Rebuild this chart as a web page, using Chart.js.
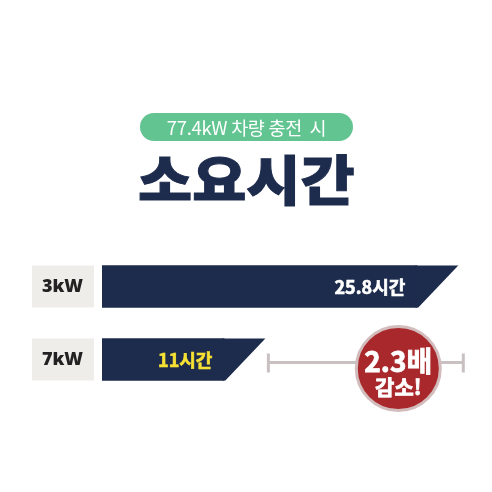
<!DOCTYPE html>
<html>
<head>
<meta charset="utf-8">
<script src="https://cdn.jsdelivr.net/npm/chart.js@4.4.1/dist/chart.umd.min.js"></script>
<style>
  body { margin: 0; background: #fff; }
  #wrap { position: relative; width: 492px; height: 492px; }
  .pill {
    position: absolute; left: 140px; top: 113px; width: 213px; height: 28px;
    border-radius: 14px; background: #62c491; color: #fff;
    font: 400 18.5px "Noto Sans CJK KR"; text-align: center; line-height: 28px;
    white-space: pre; letter-spacing: -0.3px;
  }
  .title {
    position: absolute; left: 0; width: 492px; top: 148px; text-align: center;
    font: 900 54px/60px "Noto Sans CJK KR"; color: #1d2b4d;
    transform: scaleX(1.09); transform-origin: 242px 0;
    -webkit-text-stroke: 1px #1d2b4d;
  }
  #wrap canvas { position: absolute; left: 0; top: 0; }
</style>
</head>
<body>
<div id="wrap">
  <canvas id="chart" width="492" height="492"></canvas>
  <div class="pill">77.4kW 차량 충전  시</div>
  <div class="title">소요시간</div>
</div>
<script>
// charging time per charger
const categories = ["3kW", "7kW"];
const hours = [25.8, 11];
const unit = "시간";
const labelColors = ["#ffffff", "#f7e234"];

const navy = "#1d2b4d";
const slant = 20;

const decor = {
  id: "decor",
  beforeDraw(chart) {
    // gray boxes behind the category labels
    const ctx = chart.ctx, y = chart.scales.y;
    ctx.save();
    ctx.fillStyle = "#efedea";
    categories.forEach((c, i) => {
      const cy = y.getPixelForValue(i);
      ctx.fillRect(32, cy - 21, 62, 42);
    });
    ctx.restore();
  },
  afterDatasetsDraw(chart) {
    const ctx = chart.ctx, x = chart.scales.x;
    const bars = chart.getDatasetMeta(0).data;
    ctx.save();
    bars.forEach((b, i) => {
      const top = b.y - b.height / 2, bot = b.y + b.height / 2;
      // cut the bar end on a slant
      ctx.fillStyle = "#ffffff";
      ctx.fillRect(b.x - 21, top - 1, 22, b.height + 2);
      ctx.fillStyle = navy;
      ctx.beginPath();
      ctx.moveTo(b.x - 23, top);
      ctx.lineTo(b.x + slant, top);
      ctx.lineTo(b.x - slant, bot);
      ctx.lineTo(b.x - 23, bot);
      ctx.closePath();
      ctx.fill();
      // value label
      ctx.fillStyle = labelColors[i];
      ctx.font = "bold 18px 'Noto Sans CJK KR'";
      ctx.textAlign = "right";
      ctx.textBaseline = "middle";
      ctx.lineWidth = 0.6;
      ctx.strokeStyle = labelColors[i];
      ctx.fillText(hours[i] + unit, b.x - 33, b.y + 1);
      ctx.strokeText(hours[i] + unit, b.x - 33, b.y + 1);
    });

    // difference bracket
    const ly = bars[1].y + 3;
    const x1 = x.getPixelForValue(hours[1]) + slant + 3;
    const x2 = x.getPixelForValue(hours[0]) + slant + 5;
    ctx.strokeStyle = "#c9c0c1";
    ctx.lineWidth = 3;
    ctx.beginPath();
    ctx.moveTo(x1, ly); ctx.lineTo(x2, ly);
    ctx.moveTo(x1, ly - 9); ctx.lineTo(x1, ly + 10);
    ctx.moveTo(x2, ly - 9); ctx.lineTo(x2, ly + 10);
    ctx.stroke();

    // ratio badge
    const cx = x.getPixelForValue(hours[0]) - 40, cy = bars[1].y + 9;
    ctx.beginPath();
    ctx.arc(cx, cy, 42, 0, Math.PI * 2);
    ctx.fillStyle = "#a9282c";
    ctx.fill();
    ctx.lineWidth = 3;
    ctx.strokeStyle = "#d2bcbc";
    ctx.stroke();
    ctx.fillStyle = "#ffffff";
    ctx.strokeStyle = "#ffffff";
    ctx.lineWidth = 0.8;
    ctx.textAlign = "center";
    ctx.textBaseline = "middle";
    const ratio = (hours[0] / hours[1]).toFixed(1) + "배";
    ctx.font = "bold 28px 'Noto Sans CJK KR'";
    ctx.fillText(ratio, cx, cy - 7);
    ctx.strokeText(ratio, cx, cy - 7);
    ctx.font = "bold 21px 'Noto Sans CJK KR'";
    ctx.fillText("감소!", cx, cy + 19);
    ctx.strokeText("감소!", cx, cy + 19);
    ctx.restore();
  }
};

new Chart(document.getElementById("chart"), {
  type: "bar",
  data: {
    labels: categories,
    datasets: [{
      data: hours,
      backgroundColor: navy,
      borderWidth: 0,
      barThickness: 42
    }]
  },
  options: {
    responsive: false,
    animation: false,
    indexAxis: "y",
    layout: { padding: { top: 250, bottom: 96, left: 0, right: 12 } },
    plugins: { legend: { display: false }, tooltip: { enabled: false } },
    scales: {
      x: { display: false, min: 0, max: 29 },
      y: {
        grid: { display: false, drawTicks: false },
        border: { display: false },
        ticks: {
          padding: 19,
          color: "#222222",
          font: { family: "Noto Sans", weight: "900", size: 18 }
        },
        afterFit(s) { s.width = 102; }
      }
    }
  },
  plugins: [decor]
});
</script>
</body>
</html>
